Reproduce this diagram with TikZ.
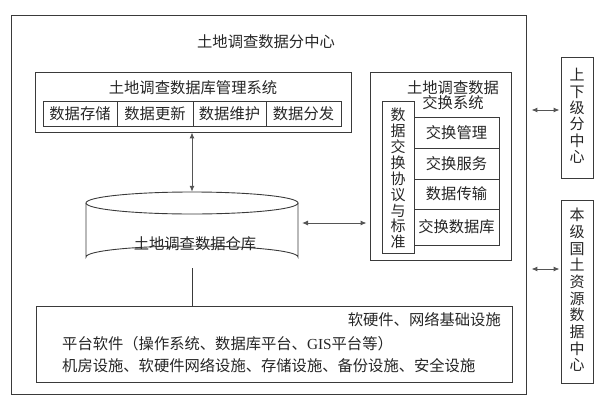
\documentclass[tikz,border=0pt]{standalone}
\usepackage{fontspec}
\setmainfont{Noto Sans CJK SC}
\newfontfamily\latfont{Liberation Serif}
\usetikzlibrary{arrows.meta}
\definecolor{linec}{HTML}{3A3A3A}
\definecolor{arrc}{HTML}{555555}
\begin{document}
\begin{tikzpicture}[x=1pt,y=-1pt,
  every node/.style={font=\fontsize{15.3pt}{15.8pt}\selectfont, text=black!85, inner sep=0pt},
  boxc/.style={draw=linec, line width=0.9pt, rectangle},
  vtext/.style={align=center, font=\fontsize{15pt}{16.4pt}\selectfont},
  arr/.style={draw=arrc, line width=1pt, {Latex[length=6pt,width=5pt]}-{Latex[length=6pt,width=5pt]}},
  plain/.style={draw=linec, line width=0.9pt}]
\useasboundingbox (0,0) rectangle (599,404);
% outer box
\node[boxc, minimum width=515pt, minimum height=379pt] (outer) at (268.5,204.5) {};
\node (title) at (266,42) {土地调查数据分中心};
% DBMS
\node[boxc, minimum width=316pt, minimum height=60pt] (dbms) at (193,102) {};
\node (dbmst) at (193,88) {土地调查数据库管理系统};
\node[boxc, minimum width=74pt, minimum height=25pt] (c1) at (80,113.5) {数据存储};
\node[boxc, minimum width=76pt, minimum height=25pt] (c2) at (155,113.5) {数据更新};
\node[boxc, minimum width=73pt, minimum height=25pt] (c3) at (229.5,113.5) {数据维护};
\node[boxc, minimum width=75pt, minimum height=25pt] (c4) at (303.5,113.5) {数据分发};
% cylinder
\node[minimum width=212pt, minimum height=76pt] (cyl) at (192,230) {};
\draw[plain] (192,203) ellipse [x radius=106, y radius=11];
\draw[plain] (86,203) -- (86,257) arc[start angle=180, end angle=360, x radius=106, y radius=11] -- (298,203);
\node (cylt) at (195,244) {土地调查数据仓库};
% exchange system
\node[boxc, minimum width=141pt, minimum height=188pt] (exch) at (440.5,166) {};
\node[align=center, font=\fontsize{15.3pt}{15pt}\selectfont] (excht) at (453,95.5) {土地调查数据\\交换系统};
\node[boxc, minimum width=32pt, minimum height=152pt] (proto) at (398,177) {};
\node[vtext, font=\fontsize{15pt}{15.9pt}\selectfont] (protot) at (398,178.5) {数\\据\\交\\换\\协\\议\\与\\标\\准};
\node[boxc, minimum width=85pt, minimum height=31pt] (s1) at (456.5,132.5) {交换管理};
\node[boxc, minimum width=85pt, minimum height=31pt] (s2) at (456.5,163.5) {交换服务};
\node[boxc, minimum width=85pt, minimum height=30pt] (s3) at (456.5,194) {数据传输};
\node[boxc, minimum width=85pt, minimum height=36pt] (s4) at (456.5,227) {交换数据库};
% platform
\node[boxc, minimum width=476pt, minimum height=76pt] (plat) at (274,344) {};
\node[anchor=east] (p1) at (501,320) {软硬件、网络基础设施};
\node[anchor=west] (p2) at (62,344) {平台软件（操作系统、数据库平台、{\latfont GIS}平台等）};
\node[anchor=west] (p3) at (62,366) {机房设施、软硬件网络设施、存储设施、备份设施、安全设施};
% right boxes
\node[boxc, minimum width=32pt, minimum height=121pt] (upper) at (577,117.5) {};
\node[vtext] (uppert) at (577,116) {上\\下\\级\\分\\中\\心};
\node[boxc, minimum width=32pt, minimum height=183pt] (nat) at (577,291.5) {};
\node[vtext, font=\fontsize{15pt}{16.7pt}\selectfont] (natt) at (577,290) {本\\级\\国\\土\\资\\源\\数\\据\\中\\心};
% connectors
\draw[arr] (cyl.north |- dbms.south) -- (cyl.north);
\draw[plain] (cyl.south) -- (cyl.south |- plat.north);
\draw[arr, shorten <=4pt, shorten >=3pt] (298,223) -- (exch.west |- 0,223);
\draw[arr, shorten <=5pt, shorten >=1pt] (outer.east |- 0,110) -- (upper.west |- 0,110);
\draw[arr, shorten <=5pt, shorten >=1pt] (outer.east |- 0,269) -- (nat.west |- 0,269);
\end{tikzpicture}
\end{document}
